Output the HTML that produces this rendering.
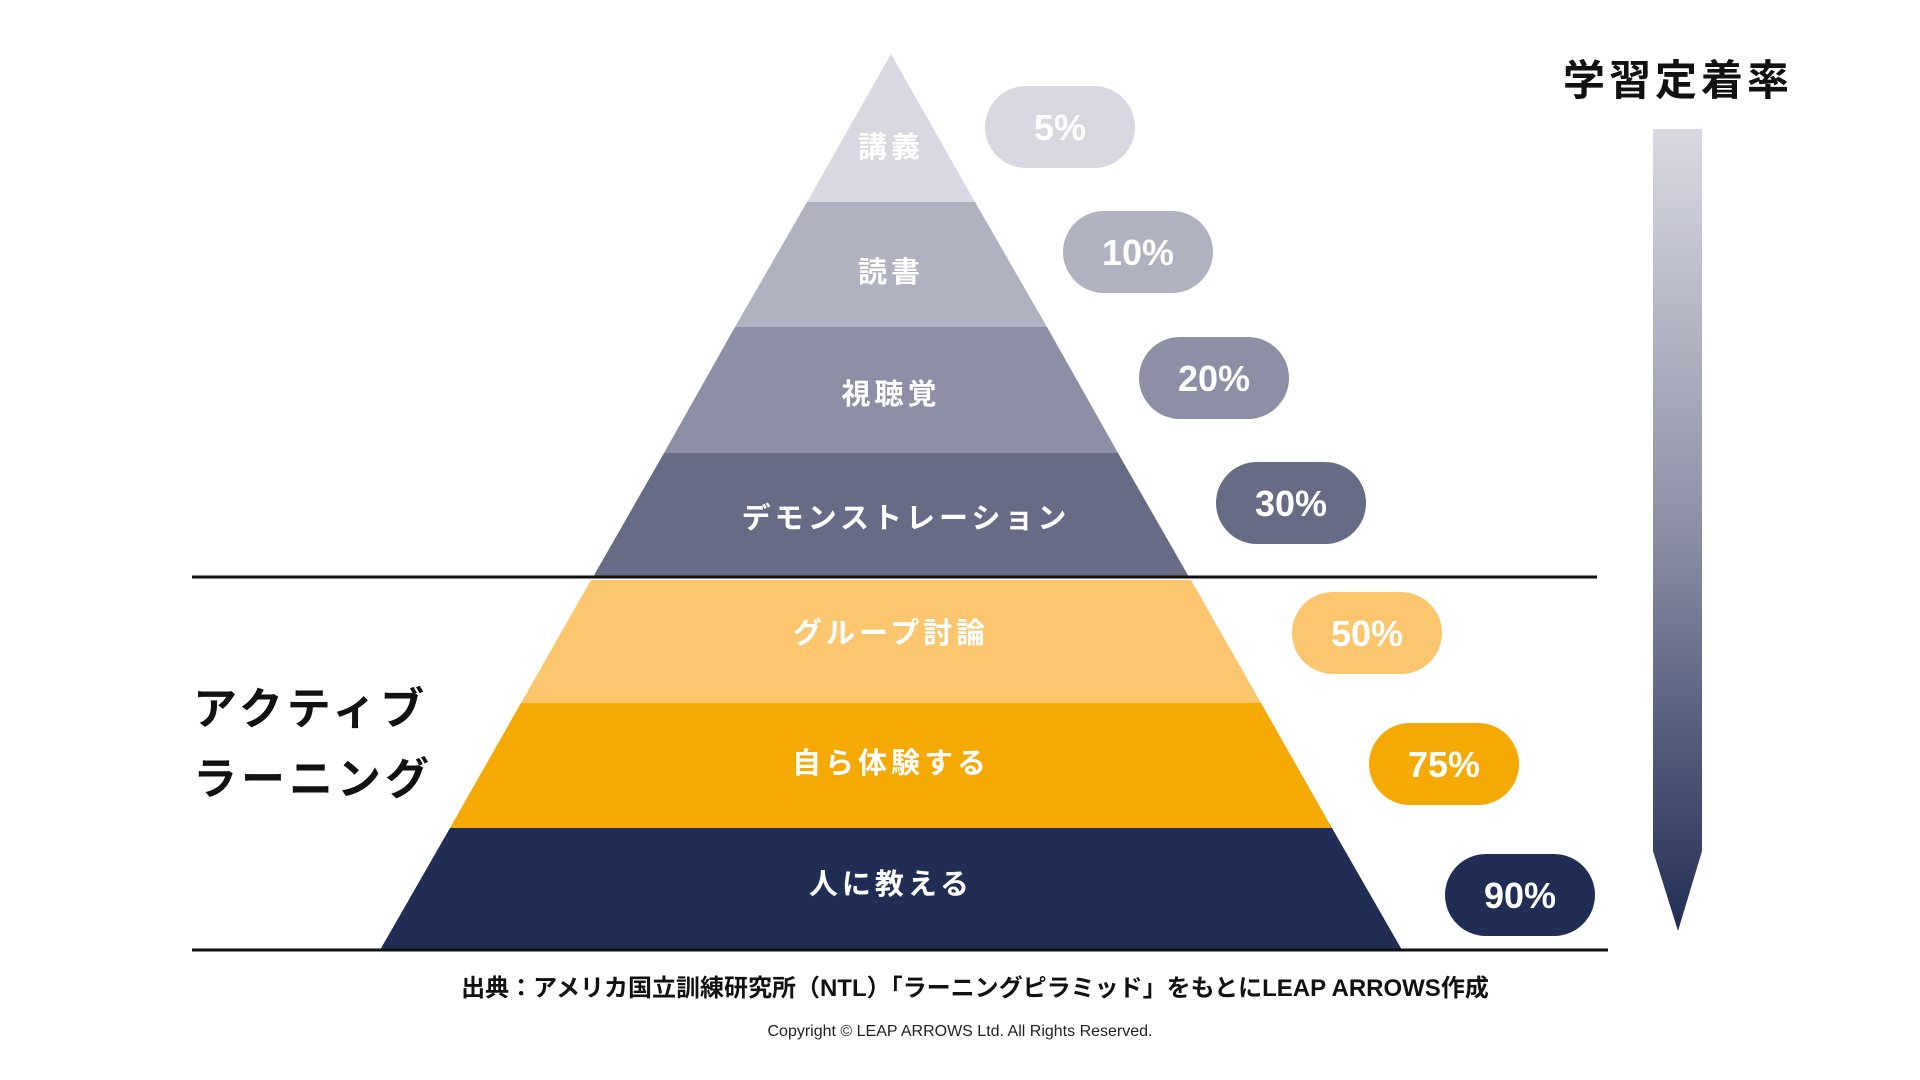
<!DOCTYPE html>
<html><head><meta charset="utf-8"><style>
html,body{margin:0;padding:0;background:#fff;}
svg{display:block;}
text{font-family:"Liberation Sans","Noto Sans CJK JP",sans-serif;font-weight:bold;}
</style></head><body>
<svg width="1920" height="1080" viewBox="0 0 1920 1080" xmlns="http://www.w3.org/2000/svg">
<defs>
<linearGradient id="g" x1="0" y1="0" x2="0" y2="1">
<stop offset="0" stop-color="#d8d9e1"/>
<stop offset="0.5" stop-color="#8c8fa5"/>
<stop offset="1" stop-color="#222e55"/>
</linearGradient>
</defs>
<polygon points="891,54 975,202 807,202" fill="#d8d9e0"/>
<polygon points="807,202 975,202 1047,327 735,327" fill="#b0b2c0"/>
<polygon points="735,327 1047,327 1118,453 664,453" fill="#8c8fa5"/>
<polygon points="664,453 1118,453 1189,577 593,577" fill="#676b86"/>
<polygon points="591,580 1191,580 1261,703 521,703" fill="#fbc66e"/>
<polygon points="521,703 1261,703 1332,828 450,828" fill="#f5a905"/>
<polygon points="450,828 1332,828 1402,950 380,950" fill="#202e55"/>
<line x1="192" y1="577" x2="1597" y2="577" stroke="#111" stroke-width="3"/>
<line x1="192" y1="950" x2="1608" y2="950" stroke="#111" stroke-width="3"/>
<g fill="#fff" font-size="29" text-anchor="middle" letter-spacing="4">
<text x="891" y="157">講義</text>
<text x="891" y="282">読書</text>
<text x="891" y="404">視聴覚</text>
<text x="906" y="528">デモンストレーション</text>
<text x="891" y="643">グループ討論</text>
<text x="891" y="773">自ら体験する</text>
<text x="891" y="894">人に教える</text>
</g>
<g font-size="36" text-anchor="middle">
<rect x="985" y="86" width="150" height="82" rx="41" fill="#d8d9e0"/><text x="1060" y="140" fill="#fff">5%</text>
<rect x="1063" y="211" width="150" height="82" rx="41" fill="#b0b2c0"/><text x="1138" y="265" fill="#fff">10%</text>
<rect x="1139" y="337" width="150" height="82" rx="41" fill="#8c8fa5"/><text x="1214" y="391" fill="#fff">20%</text>
<rect x="1216" y="462" width="150" height="82" rx="41" fill="#676b86"/><text x="1291" y="516" fill="#fff">30%</text>
<rect x="1292" y="592" width="150" height="82" rx="41" fill="#fbc66e"/><text x="1367" y="646" fill="#fff">50%</text>
<rect x="1369" y="723" width="150" height="82" rx="41" fill="#f5a905"/><text x="1444" y="777" fill="#fff">75%</text>
<rect x="1445" y="854" width="150" height="82" rx="41" fill="#202e55"/><text x="1520" y="908" fill="#fff">90%</text>
</g>
<polygon points="1653,129 1702,129 1702,851 1678,931 1653,851" fill="url(#g)"/>
<text x="1678" y="95" font-size="42" text-anchor="middle" fill="#111" letter-spacing="4">学習定着率</text>
<text x="193" y="724" font-size="44" fill="#111" letter-spacing="4">アクティブ</text>
<text x="193" y="794" font-size="44" fill="#111" letter-spacing="4">ラーニング</text>
<text x="975" y="996" font-size="24" text-anchor="middle" fill="#111">出典：アメリカ国立訓練研究所（NTL）「ラーニングピラミッド」をもとにLEAP ARROWS作成</text>
<text x="960" y="1036" font-size="16" text-anchor="middle" fill="#222" style="font-weight:normal">Copyright © LEAP ARROWS Ltd. All Rights Reserved.</text>
</svg>
</body></html>
